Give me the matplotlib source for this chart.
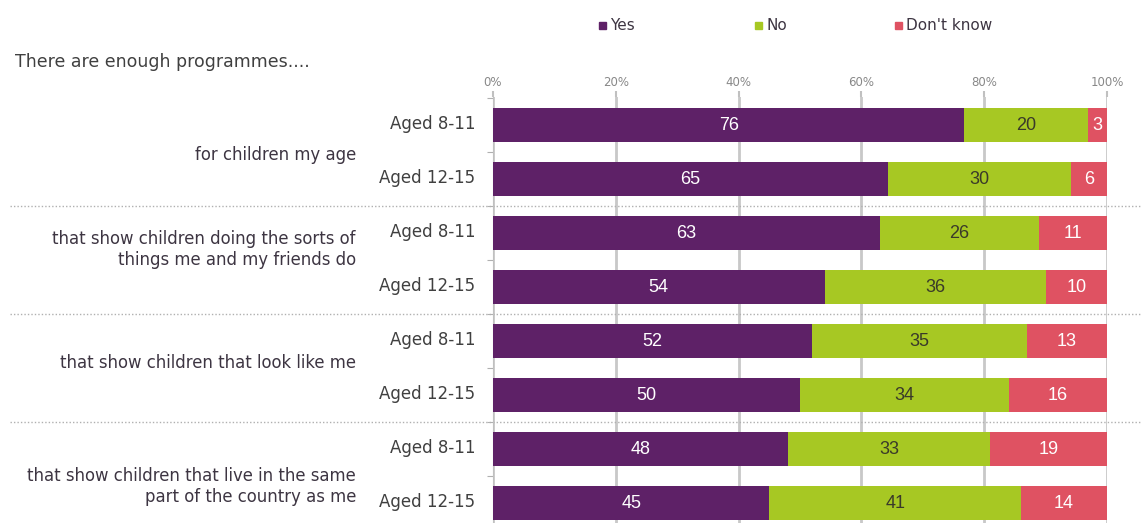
import matplotlib.pyplot as plt
import matplotlib.transforms as mtransforms
from matplotlib.patches import Rectangle

plt.rcParams['font.family'] = ['DejaVu Sans']

# data
groups = ["for children my age",
          "that show children doing the sorts of\nthings me and my friends do",
          "that show children that look like me",
          "that show children that live in the same\npart of the country as me"]
ages = ["Aged 8-11", "Aged 12-15"]
yes = [76, 65, 63, 54, 52, 50, 48, 45]
no = [20, 30, 26, 36, 35, 34, 33, 41]
dont_know = [3, 6, 11, 10, 13, 16, 19, 14]
ticks = [0, 20, 40, 60, 80, 100]

purple = '#5e2167'
green = '#a7c823'
red = '#df5262'
txt = '#3d3542'

# segments scaled so each row fills 0-100 (rounded labels don't always add up)
tot = [a + b + c for a, b, c in zip(yes, no, dont_know)]
w_yes = [v / t * 100 for v, t in zip(yes, tot)]
w_no = [v / t * 100 for v, t in zip(no, tot)]
w_dk = [v / t * 100 for v, t in zip(dont_know, tot)]
left2 = [a + b for a, b in zip(w_yes, w_no)]

fig = plt.figure(figsize=(11.47, 5.23), dpi=100)
ax = fig.add_axes([493/1147, 0, (1107-493)/1147, 1 - 97/523])

rows = list(range(len(yes)))
h = 0.63
ax.barh(rows, w_yes, height=h, color=purple, zorder=3)
ax.barh(rows, w_no, left=w_yes, height=h, color=green, zorder=3)
ax.barh(rows, w_dk, left=left2, height=h, color=red, zorder=3)

nf = dict(ha='center', va='center', fontsize=13, zorder=4,
          family='Liberation Sans')
for i in rows:
    ax.text(w_yes[i] / 2, i, str(yes[i]), color='white', **nf)
    ax.text(w_yes[i] + w_no[i] / 2, i, str(no[i]), color='#3a3a2a', **nf)
    ax.text(left2[i] + w_dk[i] / 2, i, str(dont_know[i]), color='white', **nf)

ax.xaxis.tick_top()
ax.set_xticks(ticks)
ax.set_xticklabels([f"{t}%" for t in ticks], fontsize=8.5, color='#888888')
ax.tick_params(axis='x', length=4, color='#c0c0c0', width=1.5, pad=2)
ax.grid(axis='x', color='#c8c8c8', linewidth=2, zorder=1)
ax.set_yticks([r + 0.5 for r in range(-1, 8)])
ax.set_yticklabels([])
ax.tick_params(axis='y', length=4, color='#b0b0b0')
ax.set_xlim(0, 100)
ax.set_ylim(7.37, -0.52)
for s in ['top', 'right', 'bottom']:
    ax.spines[s].set_visible(False)
ax.spines['left'].set_color('#c0c0c0')

# age labels
for i in rows:
    ax.text(-2.9, i - 0.02, ages[i % 2], ha='right', va='center', fontsize=12,
            color='#404040')

# group labels
trans = mtransforms.blended_transform_factory(fig.transFigure, ax.transData)
offsets = [0.05, -0.19, -0.09, 0.2]
for g, label in enumerate(groups):
    ax.text(356/1147, 2 * g + 0.5 + offsets[g], label, transform=trans,
            ha='right', va='center', fontsize=11.9, color=txt, linespacing=1.2)
    if g > 0:
        ax.plot([10/1147, 1140/1147], [2 * g - 0.5, 2 * g - 0.5],
                transform=trans, color='#b0b0b0', linestyle=(0, (1, 1.5)),
                linewidth=1, clip_on=False, zorder=2)

fig.text(15/1147, 1 - 62/523, "There are enough programmes....", fontsize=12.5,
         color='#404040', va='center', ha='left')

# legend
for x, lab, col in [(599, "Yes", purple), (755, "No", green), (895, "Don't know", red)]:
    fig.patches.append(Rectangle((x/1147, 1 - 29/523), 7/1147, 7/523,
                                 transform=fig.transFigure, color=col))
    fig.text((x + 11)/1147, 1 - 25/523, lab, fontsize=11, color=txt,
             va='center', ha='left')

fig.savefig('out.png', dpi=100)
